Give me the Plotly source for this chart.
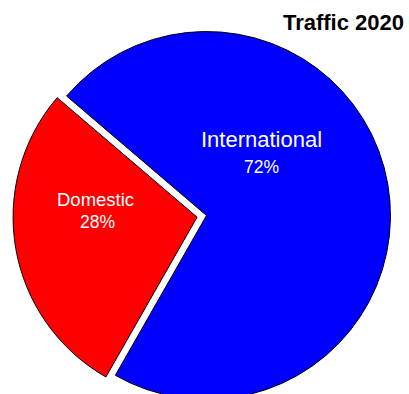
import plotly.graph_objects as go

# Traffic split for 2020
categories = ["International", "Domestic"]
values = [72, 28]
slice_colors = ["#0000FF", "#FF0000"]
pulls = [0, 0.052]

title_text = "Traffic 2020"

FIG_W, FIG_H = 409, 431
FONT = "Liberation Sans, Arial, sans-serif"

# pie placement (pixels from top-left)
cx, radius = 206.5, 184
box = radius * (2 + 2 * max(pulls))

total = sum(values)
pct = [f"{round(v / total * 100)}%" for v in values]

fig = go.Figure(
    go.Pie(
        labels=categories,
        values=values,
        marker=dict(colors=slice_colors, line=dict(color="black", width=1)),
        pull=pulls,
        rotation=-49.5,
        direction="clockwise",
        sort=False,
        textinfo="none",
        hoverinfo="label+percent",
        domain=dict(x=[(cx - box / 2) / FIG_W, (cx + box / 2) / FIG_W], y=[0, 1]),
    )
)

# slice labels: (x, y, size) for the name line and the percentage line
label_pos = {
    "International": ((261, 139.5, 22), (261, 166.5, 17.5)),
    "Domestic": ((95.5, 199, 18.5), (97, 222, 17.5)),
}
annotations = []
for name, p in zip(categories, pct):
    (nx, ny, ns), (px, py, ps) = label_pos[name]
    for txt, x, y, s in ((name, nx, ny, ns), (p, px, py, ps)):
        annotations.append(
            dict(
                text=txt,
                x=x / FIG_W,
                y=(FIG_H - y) / FIG_H,
                xref="paper",
                yref="paper",
                xanchor="center",
                yanchor="middle",
                showarrow=False,
                font=dict(family=FONT, size=s, color="white"),
            )
        )

fig.update_layout(
    width=FIG_W,
    height=FIG_H,
    margin=dict(l=0, r=0, t=0, b=0),
    paper_bgcolor="white",
    plot_bgcolor="white",
    showlegend=False,
    title=dict(
        text=f"<b>{title_text}</b>",
        x=404 / FIG_W,
        xanchor="right",
        xref="container",
        y=1 - 22.5 / FIG_H,
        yanchor="middle",
        yref="container",
        font=dict(family=FONT, size=22, color="black"),
    ),
    annotations=annotations,
)

fig.write_html(
    "out.html",
    post_script="document.documentElement.style.overflow='hidden';document.body.style.overflow='hidden';",
)
